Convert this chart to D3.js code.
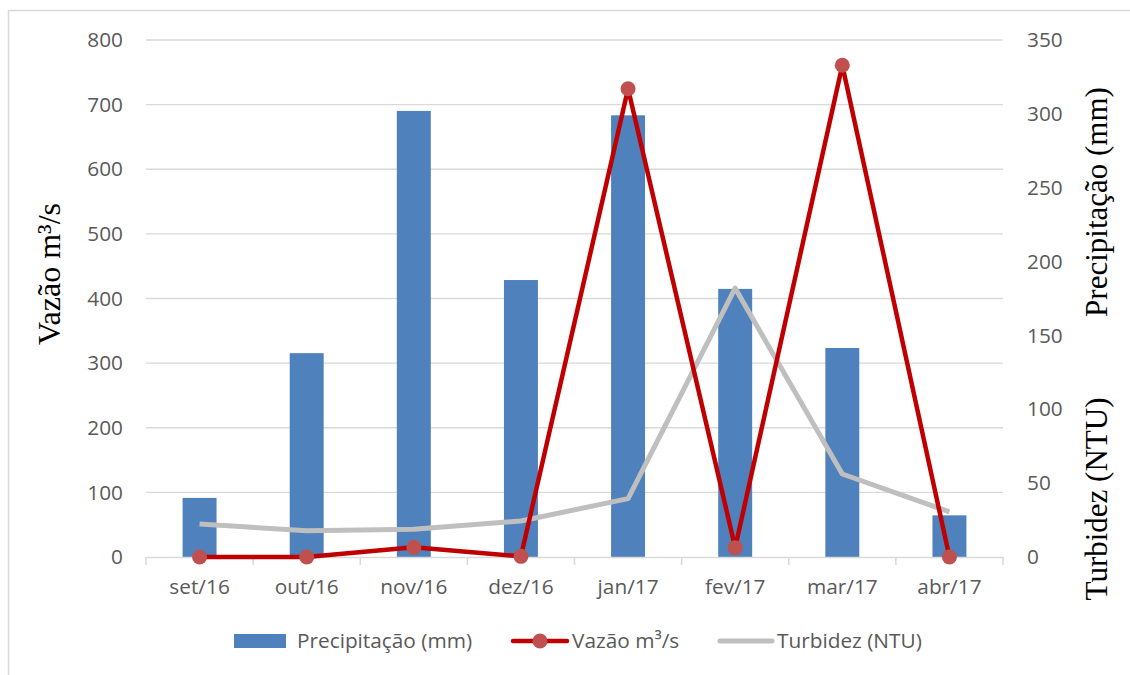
<!DOCTYPE html>
<html><head><meta charset="utf-8">
<script src="https://cdn.jsdelivr.net/npm/d3@7"></script>
<style>body{margin:0;background:#fff;} svg{display:block;}</style>
</head><body><svg id="c" width="1130" height="675"></svg>
<script>
const categories = ["set/16","out/16","nov/16","dez/16","jan/17","fev/17","mar/17","abr/17"];
const precipitacao = [40, 138, 302, 187.5, 299, 181.5, 141.5, 28.2];
const vazao = [0, 0, 15, 1, 724.5, 14.5, 761, 0];
const turbidez = [22.3, 17.8, 18.8, 24.4, 39.5, 182, 56.2, 30.5];
const leftTicks = [0,100,200,300,400,500,600,700,800];
const rightTicks = [0,50,100,150,200,250,300,350];

const svg = d3.select("#c");
const L = 146, R = 1003, T = 40, B = 557;
const tickFont = "'Open Sans', sans-serif";
const gray = "#595959";
const fs = 20.8;

svg.append("rect").attr("x",8.5).attr("y",10.5).attr("width",1130).attr("height",700)
  .attr("fill","none").attr("stroke","#d9d9d9").attr("stroke-width",1.5);

const x = d3.scaleBand().domain(categories).range([L,R]).paddingInner(0.683).paddingOuter(0.3415);
const xc = d => x(d) + x.bandwidth()/2;
const yL = d3.scaleLinear().domain([0,800]).range([B,T]);
const yR = d3.scaleLinear().domain([0,350]).range([B,T]);

// gridlines
svg.append("g").selectAll("line").data(leftTicks.slice(1)).join("line")
  .attr("x1",L).attr("x2",R).attr("y1",d=>yL(d)).attr("y2",d=>yL(d))
  .attr("stroke","#d9d9d9").attr("stroke-width",1.3);

// left axis
const ga = svg.append("g").attr("transform",`translate(${L},0)`)
  .call(d3.axisLeft(yL).tickValues(leftTicks).tickSize(0).tickPadding(23));
ga.select(".domain").remove();
ga.selectAll("text").attr("font-family",tickFont).attr("font-size",fs).attr("fill",gray);

// right axis
const gr = svg.append("g").attr("transform",`translate(${R},0)`)
  .call(d3.axisRight(yR).tickValues(rightTicks).tickSize(0).tickPadding(24));
gr.select(".domain").remove();
gr.selectAll("text").attr("font-family",tickFont).attr("font-size",fs).attr("fill",gray);

// bars
svg.append("g").selectAll("rect").data(categories).join("rect")
  .attr("x",d=>x(d)).attr("width",x.bandwidth())
  .attr("y",(d,i)=>yR(precipitacao[i])).attr("height",(d,i)=>B-yR(precipitacao[i]))
  .attr("fill","#4f81bd");

// x axis
const gx = svg.append("g").attr("transform",`translate(0,${B})`)
  .call(d3.axisBottom(x).tickSize(0).tickPadding(22));
gx.select(".domain").attr("stroke","#d9d9d9").attr("stroke-width",1.5);
gx.selectAll("text").attr("font-family",tickFont).attr("font-size",fs).attr("fill",gray);
const bounds = d3.range(categories.length+1).map(i => L + i*x.step());
svg.append("g").selectAll("line").data(bounds).join("line")
  .attr("x1",d=>d).attr("x2",d=>d).attr("y1",B).attr("y2",B+8)
  .attr("stroke","#d9d9d9").attr("stroke-width",1.5);

// turbidez line
svg.append("path").datum(turbidez)
  .attr("d", d3.line().x((d,i)=>xc(categories[i])).y(d=>yR(d)))
  .attr("fill","none").attr("stroke","#bfbfbf").attr("stroke-width",5).attr("stroke-linejoin","round");

// vazao line
svg.append("path").datum(vazao)
  .attr("d", d3.line().x((d,i)=>xc(categories[i])).y(d=>yL(d)))
  .attr("fill","none").attr("stroke","#c00000").attr("stroke-width",4.5).attr("stroke-linejoin","round");
svg.append("g").selectAll("circle").data(vazao).join("circle")
  .attr("cx",(d,i)=>xc(categories[i])).attr("cy",d=>yL(d)).attr("r",7.5).attr("fill","#c0504d");

// axis titles
const serif = "'Liberation Serif', 'Times New Roman', serif";
svg.append("text").attr("transform","translate(60,274) rotate(-90)").attr("text-anchor","middle")
  .attr("font-family",serif).attr("font-size",32).attr("fill","#000").text("Vazão m³/s");
svg.append("text").attr("transform","translate(1107,202) rotate(-90)").attr("text-anchor","middle")
  .attr("font-family",serif).attr("font-size",31).attr("fill","#000").text("Precipitação (mm)");
svg.append("text").attr("transform","translate(1107,499) rotate(-90)").attr("text-anchor","middle")
  .attr("font-family",serif).attr("font-size",31).attr("fill","#000").text("Turbidez (NTU)");

// legend
const ly = 641;
const lg = svg.append("g");
lg.append("rect").attr("x",234).attr("y",ly-7).attr("width",52).attr("height",14).attr("fill","#4f81bd");
lg.append("text").attr("x",297).attr("y",ly).attr("dy","0.35em").attr("font-family",tickFont)
  .attr("font-size",fs).attr("fill",gray).text("Precipitação (mm)");
lg.append("line").attr("x1",513).attr("x2",567).attr("y1",ly).attr("y2",ly)
  .attr("stroke","#c00000").attr("stroke-width",4.5).attr("stroke-linecap","round");
lg.append("circle").attr("cx",540).attr("cy",ly).attr("r",7.5).attr("fill","#c0504d");
lg.append("text").attr("x",572).attr("y",ly).attr("dy","0.35em").attr("font-family",tickFont)
  .attr("font-size",fs).attr("fill",gray).text("Vazão m³/s");
lg.append("line").attr("x1",720).attr("x2",772).attr("y1",ly).attr("y2",ly)
  .attr("stroke","#bfbfbf").attr("stroke-width",5).attr("stroke-linecap","round");
lg.append("text").attr("x",777).attr("y",ly).attr("dy","0.35em").attr("font-family",tickFont)
  .attr("font-size",fs).attr("fill",gray).text("Turbidez (NTU)");
</script></body></html>
